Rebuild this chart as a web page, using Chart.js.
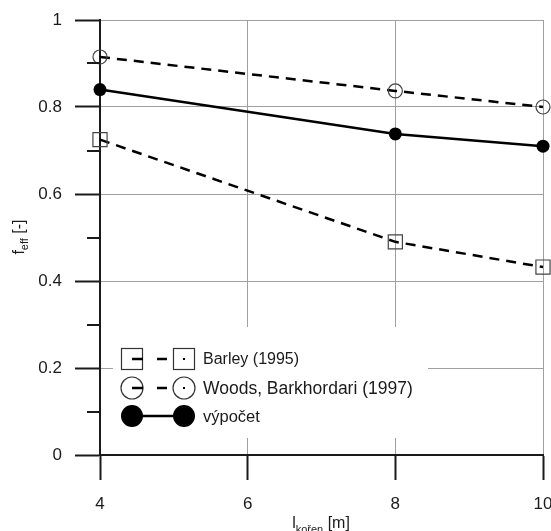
<!DOCTYPE html>
<html>
<head>
<meta charset="utf-8">
<script src="https://cdn.jsdelivr.net/npm/chart.js@4"></script>
<style>
  body { margin: 0; background: #fff; }
  #wrap { width: 551px; height: 531px; }
</style>
</head>
<body>
<div id="wrap"><canvas id="feffChart" width="551" height="531"></canvas></div>
<script>
const lengths = [4, 8, 10];
const barley = [0.725, 0.49, 0.432];
const woods = [0.915, 0.837, 0.8];
const vypocet = [0.84, 0.738, 0.71];
const seriesNames = ["Barley (1995)", "Woods, Barkhordari (1997)", "výpočet"];
const xTicks = [4, 6, 8, 10];
const yMinorTicks = [0.1, 0.3, 0.5, 0.7, 0.9];

const FONT = '"Liberation Sans", Arial, sans-serif';
const toPoints = (vals) => vals.map((v, i) => ({ x: lengths[i], y: v }));

/* minor ticks, axis titles with subscripts, legend box */
const extras = {
  id: "extras",
  afterDraw(chart) {
    const { ctx, chartArea, scales } = chart;
    const y = scales.y;

    // minor ticks on y axis
    ctx.save();
    ctx.strokeStyle = "#1a1a1a";
    ctx.lineWidth = 2;
    yMinorTicks.forEach((v) => {
      const py = Math.round(y.getPixelForValue(v));
      ctx.beginPath();
      ctx.moveTo(chartArea.left - 13, py);
      ctx.lineTo(chartArea.left, py);
      ctx.stroke();
    });

    // x title: l_kořen [m]
    ctx.fillStyle = "#1a1a1a";
    ctx.textBaseline = "alphabetic";
    ctx.textAlign = "left";
    const big = "16px " + FONT, small = "11px " + FONT;
    ctx.font = big;
    const wl = ctx.measureText("l").width;
    const wm = ctx.measureText(" [m]").width;
    ctx.font = small;
    const wk = ctx.measureText("kořen").width;
    let tx = 321 - (wl + wk + wm) / 2;
    ctx.font = big; ctx.fillText("l", tx, 528); tx += wl;
    ctx.font = small; ctx.fillText("kořen", tx, 533); tx += wk;
    ctx.font = big; ctx.fillText(" [m]", tx, 528);

    // y title: f_eff [-]
    ctx.save();
    ctx.translate(24, 237);
    ctx.rotate(-Math.PI / 2);
    ctx.font = big;
    const wf = ctx.measureText("f").width;
    const wb = ctx.measureText(" [-]").width;
    ctx.font = small;
    const we = ctx.measureText("eff").width;
    let ty = -(wf + we + wb) / 2;
    ctx.font = big; ctx.fillText("f", ty, 0); ty += wf;
    ctx.font = small; ctx.fillText("eff", ty, 4); ty += we;
    ctx.font = big; ctx.fillText(" [-]", ty, 0);
    ctx.restore();

    // legend
    ctx.fillStyle = "#fff";
    ctx.fillRect(113, 327, 315, 111);
    const rows = [359, 388, 416];
    const x1 = 132, x2 = 184;
    ctx.strokeStyle = "#333";
    ctx.lineWidth = 1.2;
    // Barley squares
    ctx.strokeRect(121.5, rows[0] - 10.5, 21, 21);
    ctx.strokeRect(173.5, rows[0] - 10.5, 21, 21);
    // Woods circles
    [x1, x2].forEach((cx) => {
      ctx.beginPath();
      ctx.arc(cx, rows[1], 11, 0, Math.PI * 2);
      ctx.stroke();
    });
    // dashed samples
    ctx.strokeStyle = "#000";
    ctx.lineWidth = 2.5;
    [rows[0], rows[1]].forEach((ry) => {
      ctx.beginPath();
      ctx.moveTo(x1, ry); ctx.lineTo(x1 + 11, ry);
      ctx.moveTo(157, ry); ctx.lineTo(167, ry);
      ctx.stroke();
      ctx.fillStyle = "#000";
      ctx.fillRect(x2 - 1, ry - 1, 2, 2);
    });
    // výpočet
    ctx.beginPath();
    ctx.moveTo(x1, rows[2]); ctx.lineTo(x2, rows[2]);
    ctx.stroke();
    [x1, x2].forEach((cx) => {
      ctx.beginPath();
      ctx.arc(cx, rows[2], 11, 0, Math.PI * 2);
      ctx.fill();
    });
    ctx.fillStyle = "#1a1a1a";
    ctx.textBaseline = "middle";
    const legendSizes = [16, 17.5, 16.5];
    seriesNames.forEach((name, i) => {
      ctx.font = legendSizes[i] + "px " + FONT;
      ctx.fillText(name, 203, rows[i] + 1);
    });
    ctx.restore();
  },
};

const feffChart = new Chart(document.getElementById("feffChart"), {
  type: "line",
  data: {
    datasets: [
      {
        label: seriesNames[0],
        data: toPoints(barley),
        borderColor: "#000",
        borderWidth: 2.5,
        borderDash: [10, 7],
        pointStyle: "rect",
        pointRadius: 10,
        pointBorderWidth: 1.2,
        pointBorderColor: "#444",
        pointBackgroundColor: "rgba(0,0,0,0)",
        clip: false,
      },
      {
        label: seriesNames[1],
        data: toPoints(woods),
        borderColor: "#000",
        borderWidth: 2.5,
        borderDash: [10, 7],
        pointStyle: "circle",
        pointRadius: 7,
        pointBorderWidth: 1.2,
        pointBorderColor: "#444",
        pointBackgroundColor: "rgba(0,0,0,0)",
        clip: false,
      },
      {
        label: seriesNames[2],
        data: toPoints(vypocet),
        borderColor: "#000",
        borderWidth: 2.5,
        pointStyle: "circle",
        pointRadius: 6.5,
        pointBorderWidth: 0,
        pointBackgroundColor: "#000",
        clip: false,
      },
    ],
  },
  options: {
    responsive: false,
    animation: false,
    layout: { autoPadding: false, padding: { top: 20, right: 8, left: 0, bottom: 0 } },
    scales: {
      x: {
        type: "linear",
        min: 4,
        max: 10,
        afterBuildTicks: (s) => { s.ticks = xTicks.map((v) => ({ value: v })); },
        afterFit: (s) => { s.height = 76; s.paddingLeft = 0; s.paddingRight = 0; },
        grid: { color: "#a0a0a0", lineWidth: 1, tickColor: "#1a1a1a", tickWidth: 2, tickLength: 25 },
        border: { color: "#1a1a1a", width: 2 },
        ticks: { color: "#1a1a1a", font: { family: FONT, size: 17 }, padding: 14 },
      },
      y: {
        min: 0,
        max: 1,
        afterFit: (s) => { s.width = 100; s.paddingTop = 0; s.paddingBottom = 0; },
        grid: { color: "#a0a0a0", lineWidth: 1, tickColor: "#1a1a1a", tickWidth: 2, tickLength: 25 },
        border: { color: "#1a1a1a", width: 2 },
        ticks: {
          stepSize: 0.2,
          color: "#1a1a1a",
          font: { family: FONT, size: 17 },
          padding: 13,
          callback: (v) => String(+v.toFixed(1)),
        },
      },
    },
    plugins: {
      legend: { display: false },
      tooltip: { enabled: false },
    },
  },
  plugins: [extras],
});
</script>
</body>
</html>
